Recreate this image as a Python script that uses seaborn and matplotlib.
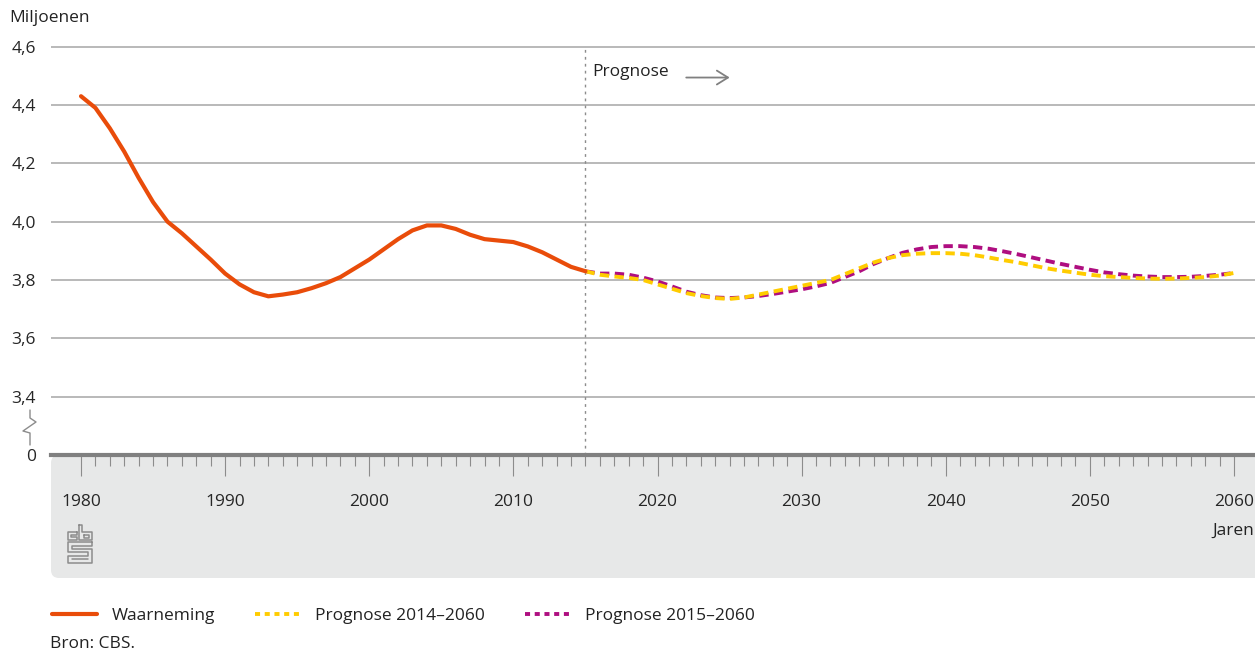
import numpy as np
import pandas as pd
import seaborn as sns
import matplotlib.pyplot as plt
from matplotlib.patches import FancyBboxPatch
from matplotlib.lines import Line2D
from matplotlib.ticker import FixedLocator

# data (millions)
jaren_obs = list(range(1980, 2016))
waarneming = [4.43, 4.39, 4.32, 4.24, 4.15, 4.067, 4.00, 3.96, 3.915, 3.87,
              3.822, 3.785, 3.758, 3.744, 3.75, 3.758, 3.772, 3.789, 3.81, 3.84,
              3.87, 3.905, 3.94, 3.97, 3.987, 3.987, 3.975, 3.955, 3.94, 3.935,
              3.93, 3.915, 3.895, 3.87, 3.845, 3.83]

jaren_prog = list(range(2015, 2061))
prognose_2014 = [3.83, 3.818, 3.812, 3.807, 3.80, 3.785, 3.77, 3.755, 3.745, 3.738,
                 3.735, 3.74, 3.75, 3.76, 3.77, 3.78, 3.79, 3.80, 3.82, 3.84,
                 3.86, 3.875, 3.885, 3.89, 3.892, 3.892, 3.89, 3.885, 3.877, 3.868,
                 3.86, 3.85, 3.84, 3.832, 3.825, 3.818, 3.813, 3.81, 3.807, 3.805,
                 3.804, 3.805, 3.807, 3.81, 3.815, 3.824]
prognose_2015 = [3.83, 3.822, 3.822, 3.818, 3.808, 3.795, 3.778, 3.76, 3.748, 3.74,
                 3.738, 3.74, 3.745, 3.752, 3.76, 3.768, 3.778, 3.79, 3.81, 3.83,
                 3.855, 3.875, 3.893, 3.905, 3.913, 3.916, 3.916, 3.913, 3.907, 3.898,
                 3.888, 3.877, 3.866, 3.855, 3.845, 3.835, 3.826, 3.82, 3.815, 3.812,
                 3.81, 3.81, 3.811, 3.814, 3.818, 3.824]

ytick_pos = [3.2, 3.4, 3.6, 3.8, 4.0, 4.2, 4.4, 4.6]
ytick_lab = ["0", "3,4", "3,6", "3,8", "4,0", "4,2", "4,4", "4,6"]
xtick_pos = list(range(1980, 2061, 10))
xtick_minor = list(range(1980, 2061))

df_obs = pd.DataFrame({"jaar": jaren_obs, "waarde": waarneming})
df_prog = pd.DataFrame({"jaar": jaren_prog, "p2014": prognose_2014, "p2015": prognose_2015})

sns.set_style("white")
plt.rcParams["font.family"] = ["Open Sans", "DejaVu Sans"]
plt.rcParams["text.color"] = "#222222"

ORANJE = "#E94C0A"
GEEL = "#FFCC00"
PAARS = "#AF0E80"
GRIJS = "#A6A6A6"

W, H = 1255, 655
fig = plt.figure(figsize=(W / 100, H / 100), dpi=100)

def fx(px):
    return px / W

def fy(py):
    return 1 - py / H

# gray band under the x axis
band = FancyBboxPatch((51 / 100, (H - 578) / 100), 1230 / 100, 123 / 100,
                      boxstyle="round,pad=0,rounding_size=0.08",
                      transform=fig.dpi_scale_trans, facecolor="#E7E8E8",
                      edgecolor="none", zorder=-10)
fig.patches.append(band)

# axes: x 51..1255 px, y 40..455 px ; 291.7 px per unit
px_per_unit = 291.7
ytop = 3.2 + (455 - 40) / px_per_unit
ax = fig.add_axes([fx(51), fy(455), fx(1255) - fx(51), fy(40) - fy(455)])
ax.patch.set_alpha(0)

sns.lineplot(data=df_obs, x="jaar", y="waarde", ax=ax, color=ORANJE, lw=3,
             label="Waarneming", zorder=5)
sns.lineplot(data=df_prog, x="jaar", y="p2015", ax=ax, color=PAARS, lw=2.8,
             linestyle=(0, (2.4, 1.4)), label="Prognose 2015\u20132060", zorder=4)
sns.lineplot(data=df_prog, x="jaar", y="p2014", ax=ax, color=GEEL, lw=2.8,
             linestyle=(0, (2.4, 1.4)), label="Prognose 2014\u20132060", zorder=4.5)
ax.get_legend().remove()

ax.set_xlim(1980 - 30 / 14.41, 2060 + 21 / 14.41)
ax.set_ylim(3.2, ytop)

for y in ytick_pos[1:]:
    ax.axhline(y, color=GRIJS, lw=1.1, zorder=1)

ax.set_yticks(ytick_pos)
ax.set_yticklabels(ytick_lab)
ax.tick_params(axis="y", length=0, pad=11, labelsize=12.5)
ax.set_xticks(xtick_pos)
ax.xaxis.set_minor_locator(FixedLocator(xtick_minor))
ax.tick_params(axis="x", which="both", bottom=True, direction="out")
ax.tick_params(axis="x", which="major", length=15, width=0.8, color="#8C8C8C",
               pad=13, labelsize=12.5)
ax.tick_params(axis="x", which="minor", length=8, width=0.8, color="#8C8C8C")
ax.set_xlabel("")
ax.set_ylabel("")
for s in ["left", "right", "top"]:
    ax.spines[s].set_visible(False)
ax.spines["bottom"].set_color("#808080")
ax.spines["bottom"].set_linewidth(3)

# prognose divider
ax.vlines(2015, 3.2, 4.6, color="#8C8C8C", lw=1, linestyle=(0, (2, 3)), zorder=2)
ax.text(2015.5, 4.514, "Prognose", fontsize=12.5, va="center", ha="left")
ax.annotate("", xy=(2025.2, 4.494), xytext=(2021.8, 4.494),
            arrowprops=dict(arrowstyle="->,head_length=0.8,head_width=0.5",
                            color="#808080", lw=1.3))

# texts
fig.text(fx(9), fy(18), "Miljoenen", fontsize=12.5, va="center", ha="left")
fig.text(fx(1254), fy(531), "Jaren", fontsize=12.5, va="center", ha="right")
fig.text(fx(50), fy(644), "Bron: CBS.", fontsize=12.5, va="center", ha="left")

# axis break mark
brk = [(30, 410), (30, 418), (36, 422), (23, 431), (30, 433), (30, 445)]
fig.add_artist(Line2D([fx(p[0]) for p in brk], [fy(p[1]) for p in brk],
                      color="#8C8C8C", lw=1, transform=fig.transFigure))

# small cbs logo
logo = [
    [(77, 532), (68, 532), (68, 540), (77, 540), (77, 537), (71, 537), (71, 535), (77, 535), (77, 532)],
    [(79, 525), (79, 540), (92, 540), (92, 532), (82, 532), (82, 525), (79, 525)],
    [(84, 534.5), (89, 534.5), (89, 537.5), (84, 537.5), (84, 534.5)],
    [(92, 542), (68, 542), (68, 552), (88, 552), (88, 556), (68, 556), (68, 563),
     (92, 563), (92, 549), (72, 549), (72, 546), (92, 546), (92, 542)],
    [(72, 559), (88, 559)],
]
for seg in logo:
    fig.add_artist(Line2D([fx(p[0]) for p in seg], [fy(p[1]) for p in seg],
                          color="#8C8C8C", lw=1.1, transform=fig.transFigure))

# legend
handles = [
    Line2D([], [], color=ORANJE, lw=3),
    Line2D([], [], color=GEEL, lw=2.8, linestyle=(0, (1.3, 1.2))),
    Line2D([], [], color=PAARS, lw=2.8, linestyle=(0, (1.3, 1.2))),
]
labels = ["Waarneming", "Prognose 2014\u20132060", "Prognose 2015\u20132060"]
fig.legend(handles, labels, loc="center left", bbox_to_anchor=(fx(52), fy(616)),
           ncol=3, frameon=False, fontsize=12.5, handlelength=2.6,
           handletextpad=0.85, columnspacing=2.3, borderpad=0, borderaxespad=0)

fig.savefig("out.png", dpi=100)
